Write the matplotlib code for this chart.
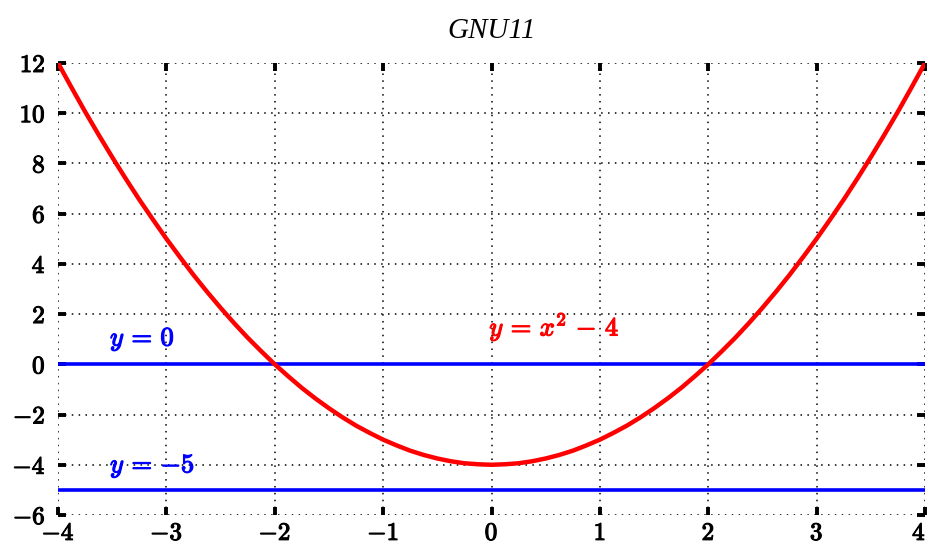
import matplotlib.pyplot as plt
import matplotlib.patheffects as pe
import matplotlib.transforms as mtransforms

plt.rcParams['mathtext.fontset'] = 'cm'
plt.rcParams['font.family'] = 'serif'
plt.rcParams['font.serif'] = ['DejaVu Serif']

# curve values (y = x^2 - 4)
xs = [-4.0, -3.875, -3.75, -3.625, -3.5, -3.375, -3.25, -3.125, -3.0, -2.875, -2.75,
      -2.625, -2.5, -2.375, -2.25, -2.125, -2.0, -1.875, -1.75, -1.625, -1.5, -1.375,
      -1.25, -1.125, -1.0, -0.875, -0.75, -0.625, -0.5, -0.375, -0.25, -0.125, 0.0,
      0.125, 0.25, 0.375, 0.5, 0.625, 0.75, 0.875, 1.0, 1.125, 1.25, 1.375, 1.5, 1.625,
      1.75, 1.875, 2.0, 2.125, 2.25, 2.375, 2.5, 2.625, 2.75, 2.875, 3.0, 3.125, 3.25,
      3.375, 3.5, 3.625, 3.75, 3.875, 4.0]
ys = [12.0, 11.02, 10.06, 9.14, 8.25, 7.39, 6.56, 5.77, 5.0, 4.27, 3.56,
      2.89, 2.25, 1.64, 1.06, 0.52, 0.0, -0.48, -0.94, -1.36, -1.75, -2.11,
      -2.44, -2.73, -3.0, -3.23, -3.44, -3.61, -3.75, -3.86, -3.94, -3.98, -4.0,
      -3.98, -3.94, -3.86, -3.75, -3.61, -3.44, -3.23, -3.0, -2.73, -2.44, -2.11, -1.75, -1.36,
      -0.94, -0.48, 0.0, 0.52, 1.06, 1.64, 2.25, 2.89, 3.56, 4.27, 5.0, 5.77, 6.56,
      7.39, 8.25, 9.14, 10.06, 11.02, 12.0]
hlines = [0, -5]
xticks = [-4, -3, -2, -1, 0, 1, 2, 3, 4]
yticks = [-6, -4, -2, 0, 2, 4, 6, 8, 10, 12]

fig = plt.figure(figsize=(9.3, 5.46), dpi=100)
ax = fig.add_axes([0.0624, 0.0568, 0.9322, 0.8278])

ax.plot(xs, ys, color='red', lw=3.2, zorder=3, solid_joinstyle='round')
for h in hlines:
    ax.plot([xs[0], xs[-1]], [h, h], color='blue', lw=2.6, zorder=2)

def bold(c):
    return [pe.withStroke(linewidth=0.9, foreground=c)]

ax.text(-3.52, 0.75, r'$y\,=\,0$', color='blue', fontsize=19, path_effects=bold('blue'))
ax.text(-3.52, -4.3, r'$y\,=\,{-5}$', color='blue', fontsize=19, path_effects=bold('blue'))
ax.text(-0.02, 1.15, r'$y\,=\,x^2\,-\,4$', color='red', fontsize=19, path_effects=bold('red'))

ax.set_xlim(-4, 4)
ax.set_ylim(-6, 12)
ax.set_xticks(xticks)
ax.set_yticks(yticks)
ax.set_xticklabels([r'$%d$' % t for t in xticks])
ax.set_yticklabels([r'$%d$' % t for t in yticks])
ax.tick_params(direction='in', length=6, width=2.8, top=True, right=True,
               labelsize=18, pad=5)
for lab in ax.get_xticklabels() + ax.get_yticklabels():
    lab.set_path_effects([pe.withStroke(linewidth=0.8, foreground='black')])
ax.tick_params(axis='y', pad=9)
ax.grid(True, color='black', linestyle=(0, (1, 3.5)), lw=1.1)
for s in ax.spines.values():
    s.set_visible(False)

# nudge last x label so it stays inside the figure
last = ax.get_xticklabels()[-1]
last.set_transform(last.get_transform() + mtransforms.ScaledTranslation(-6 / 100, 0, fig.dpi_scale_trans))

ax.set_title('GNU11', fontsize=21, family='Liberation Serif', style='italic', pad=18)

fig.savefig('out.png', dpi=100)
